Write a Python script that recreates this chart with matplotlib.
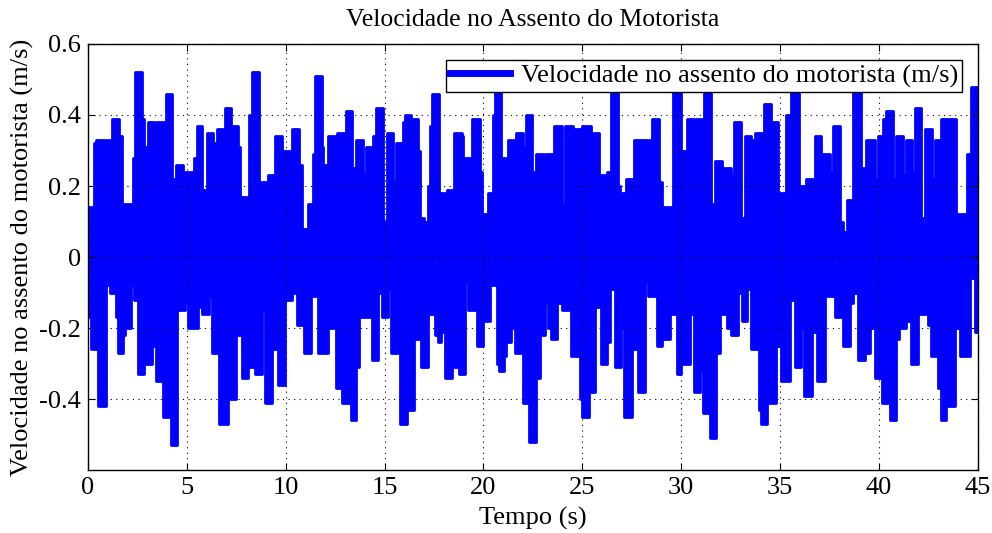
import numpy as np
import matplotlib
matplotlib.use("Agg")
import matplotlib.pyplot as plt

# upper envelope of the signal: step start times (s) and values (m/s)
t_upper = [0.00, 0.32, 0.39, 1.09, 1.23, 1.58, 1.70, 2.29, 2.38, 2.71, 2.81, 3.05, 3.39, 3.50, 3.82, 3.93,
           4.26, 4.36, 4.43, 4.82, 5.38, 5.49, 5.78, 6.00, 6.34, 6.50, 6.84, 6.93, 7.23, 7.60, 7.68, 8.02,
           8.14, 8.27, 8.64, 8.75, 9.08, 9.45, 9.82, 10.21, 10.33, 10.67, 10.80, 11.11, 11.39, 11.48, 11.81,
           11.90, 12.12, 12.52, 12.61, 12.94, 13.03, 13.36, 13.55, 13.92, 14.04, 14.43, 14.54, 14.90, 15.10,
           15.44, 15.60, 15.94, 16.03, 16.36, 16.70, 16.78, 17.00, 17.17, 17.29, 17.42, 17.75, 17.85, 18.18,
           18.52, 18.89, 18.97, 19.31, 19.43, 19.82, 19.95, 20.21, 20.49, 20.58, 20.88, 21.22, 21.55, 21.67,
           22.01, 22.13, 22.43, 22.56, 22.68, 23.02, 23.10, 23.58, 23.98, 24.11, 24.54, 24.65, 24.99, 25.46,
           25.83, 26.17, 26.27, 26.47, 26.81, 26.90, 27.23, 27.62, 28.41, 28.53, 28.87, 29.04, 29.59, 29.98,
           30.27, 30.65, 30.77, 31.16, 31.53, 31.70, 32.07, 32.17, 32.51, 32.68, 33.01, 33.21, 33.55, 33.72,
           34.19, 34.53, 34.90, 35.30, 35.44, 35.57, 35.96, 36.33, 36.75, 37.09, 37.51, 37.68, 38.02, 38.19,
           38.36, 38.69, 39.11, 39.37, 39.79, 39.96, 40.20, 40.38, 40.71, 40.85, 41.22, 41.35, 41.69, 41.81,
           42.15, 42.31, 42.70, 42.82, 43.16, 43.92, 44.45, 44.67, 45.00]
v_upper = [0.14, 0.32, 0.33, 0.25, 0.39, 0.34, 0.15, 0.28, 0.52, 0.39, 0.31, 0.38, 0.15, 0.38, 0.34, 0.46,
           0.17, 0.22, 0.26, 0.24, 0.28, 0.37, 0.19, 0.35, 0.32, 0.36, 0.35, 0.42, 0.37, 0.31, 0.17, 0.14,
           0.40, 0.52, 0.19, 0.21, 0.23, 0.34, 0.30, 0.24, 0.36, 0.26, 0.08, 0.15, 0.29, 0.51, 0.31,
           0.26, 0.34, 0.19, 0.35, 0.29, 0.41, 0.25, 0.33, 0.23, 0.31, 0.34, 0.42, 0.10, 0.35,
           0.21, 0.32, 0.38, 0.40, 0.39, 0.30, 0.11, 0.10, 0.20, 0.37, 0.46, 0.12, 0.18, 0.19,
           0.35, 0.34, 0.28, 0.21, 0.39, 0.24, 0.12, 0.18, 0.40, 0.48, 0.28, 0.33, 0.32, 0.35,
           0.31, 0.40, 0.24, 0.21, 0.29, 0.22, 0.29, 0.37, 0.15, 0.37, 0.18, 0.36, 0.37, 0.35,
           0.23, 0.06, 0.24, 0.48, 0.20, 0.18, 0.22, 0.33, 0.20, 0.39, 0.21, 0.14, 0.48, 0.30,
           0.39, 0.32, 0.39, 0.48, 0.15, 0.27, 0.24, 0.25, 0.23, 0.38, 0.11, 0.34, 0.33, 0.35,
           0.43, 0.38, 0.18, 0.40, 0.23, 0.48, 0.20, 0.22, 0.34, 0.29, 0.24, 0.37, 0.10, 0.07,
           0.16, 0.48, 0.25, 0.33, 0.22, 0.34, 0.39, 0.41, 0.22, 0.34, 0.23, 0.33, 0.24, 0.42,
           0.11, 0.36, 0.22, 0.33, 0.39, 0.12, 0.29, 0.48, 0.48]

# lower envelope of the signal
t_lower = [0.00, 0.13, 0.40, 0.52, 0.89, 1.11, 1.40, 1.53, 1.79, 1.87, 2.16, 2.32, 2.51, 2.85, 3.22, 3.42,
           3.77, 4.09, 4.19, 4.51, 4.90, 5.07, 5.58, 5.78, 6.12, 6.29, 6.64, 7.09, 7.46, 7.77, 8.11, 8.44,
           8.78, 8.95, 9.29, 9.62, 9.96, 10.30, 10.55, 10.92, 11.26, 11.39, 11.61, 12.15, 12.52, 12.86,
           13.20, 13.28, 13.55, 13.70, 14.34, 14.68, 14.88, 15.02, 15.18, 15.32, 15.66, 15.77, 16.11, 16.50,
           16.83, 17.21, 17.54, 17.68, 17.85, 18.05, 18.39, 18.69, 18.76, 19.06, 19.23, 19.56, 19.67, 19.99,
           20.32, 20.66, 20.78, 21.03, 21.12, 21.39, 21.59, 21.89, 22.01, 22.23, 22.30, 22.68, 22.85, 23.10,
           23.27, 23.44, 23.74, 23.98, 24.32, 24.42, 24.76, 24.87, 24.99, 25.33, 25.63, 25.93, 26.27, 26.39,
           26.64, 26.98, 27.11, 27.49, 27.82, 28.16, 28.33, 28.66, 28.80, 29.04, 29.42, 29.54, 29.81, 30.01,
           30.43, 30.65, 30.94, 31.11, 31.45, 31.78, 31.95, 32.34, 32.54, 32.88, 33.08, 33.35, 33.55, 33.92,
           34.06, 34.36, 34.77, 35.07, 35.49, 35.74, 36.08, 36.22, 36.59, 36.89, 37.26, 37.77, 38.19, 38.52,
           38.69, 38.95, 39.28, 39.53, 39.79, 40.17, 40.46, 40.55, 40.88, 41.02, 41.35, 41.64, 41.98, 42.10,
           42.48, 42.65, 42.99, 43.16, 43.38, 43.49, 43.83, 44.08, 44.59, 44.84, 45.00]
v_lower = [-0.17, -0.26, -0.18, -0.42, -0.08, -0.10, -0.17, -0.27, -0.22, -0.20, -0.08, -0.12, -0.33, -0.30, -0.25, -0.35,
           -0.45, -0.22, -0.53, -0.15, -0.13, -0.20, -0.14, -0.16, -0.11, -0.27, -0.47, -0.40, -0.22, -0.34, -0.31, -0.33,
           -0.15, -0.41, -0.26, -0.36, -0.12, -0.10, -0.19, -0.27, -0.07, -0.11, -0.27, -0.20, -0.37, -0.41,
           -0.33, -0.46, -0.31, -0.17, -0.29, -0.10, -0.17, -0.17, -0.09, -0.27, -0.17, -0.47, -0.43, -0.23,
           -0.31, -0.16, -0.22, -0.24, -0.21, -0.34, -0.31, -0.20, -0.33, -0.07, -0.15, -0.05, -0.25, -0.18,
           -0.08, -0.30, -0.32, -0.28, -0.24, -0.20, -0.27, -0.21, -0.41, -0.38, -0.52, -0.34, -0.22, -0.13,
           -0.20, -0.23, -0.13, -0.15, -0.06, -0.28, -0.26, -0.40, -0.45, -0.38, -0.14, -0.30, -0.24, -0.09,
           -0.31, -0.20, -0.45, -0.26, -0.38, -0.07, -0.11, -0.05, -0.25, -0.23, -0.08, -0.16, -0.33, -0.30,
           -0.16, -0.38, -0.32, -0.44, -0.51, -0.27, -0.16, -0.20, -0.22, -0.10, -0.18, -0.09, -0.26, -0.43,
           -0.47, -0.41, -0.25, -0.35, -0.12, -0.31, -0.20, -0.39, -0.21, -0.35, -0.11, -0.17, -0.25, -0.13,
           -0.10, -0.29, -0.27, -0.20, -0.34, -0.41, -0.36, -0.46, -0.23, -0.20, -0.18, -0.30, -0.11, -0.16,
           -0.19, -0.28, -0.37, -0.46, -0.37, -0.42, -0.20, -0.28, -0.06, -0.21, -0.21]

x_ticks = [0, 5, 10, 15, 20, 25, 30, 35, 40, 45]
y_ticks = [-0.4, -0.2, 0, 0.2, 0.4, 0.6]
y_ticklabels = ["-0.4", "-0.2", "0", "0.2", "0.4", "0.6"]

plt.rcParams['font.family'] = ['Liberation Serif', 'DejaVu Serif']
plt.rcParams['axes.unicode_minus'] = False

fig = plt.figure(figsize=(9.92, 5.33), dpi=100)
ax = fig.add_axes([0.0887, 0.118, 0.897, 0.7995])

# combine both envelopes on a common time grid for the filled band
t_all = np.union1d(t_upper, t_lower)
up = np.array(v_upper)[np.searchsorted(t_upper, t_all, side='right') - 1]
lo = np.array(v_lower)[np.searchsorted(t_lower, t_all, side='right') - 1]

blue = '#0000ff'
ax.fill_between(t_all, lo, up, step='post', color=blue, lw=0)
ax.step(t_upper, v_upper, where='post', color=blue, lw=2,
        label='Velocidade no assento do motorista (m/s)')
ax.step(t_lower, v_lower, where='post', color=blue, lw=2)

ax.set_xlim(0, 45)
ax.set_ylim(-0.6, 0.6)
ax.set_xticks(x_ticks)
ax.set_yticks(y_ticks)
ax.set_yticklabels(y_ticklabels)
ax.tick_params(direction='in', labelsize=19, length=5, pad=5, top=True, right=True)
ax.grid(True, color='black', linestyle=(0, (1, 4)), linewidth=0.8)
for s in ax.spines.values():
    s.set_linewidth(1.0)

ax.set_xlabel('Tempo (s)', fontsize=19, labelpad=6)
ax.set_ylabel('Velocidade no assento do motorista (m/s)', fontsize=19, labelpad=4)
ax.set_title('Velocidade no Assento do Motorista', fontsize=18.5, pad=13)

leg = ax.legend(loc='upper right', fontsize=19, fancybox=False, framealpha=1,
                edgecolor='black', handlelength=2.3, handletextpad=0.4,
                borderpad=0.15, borderaxespad=0.6)
leg.get_frame().set_linewidth(1.0)
for h in leg.get_lines():
    h.set_linewidth(5)

fig.savefig('out.png', dpi=100)
